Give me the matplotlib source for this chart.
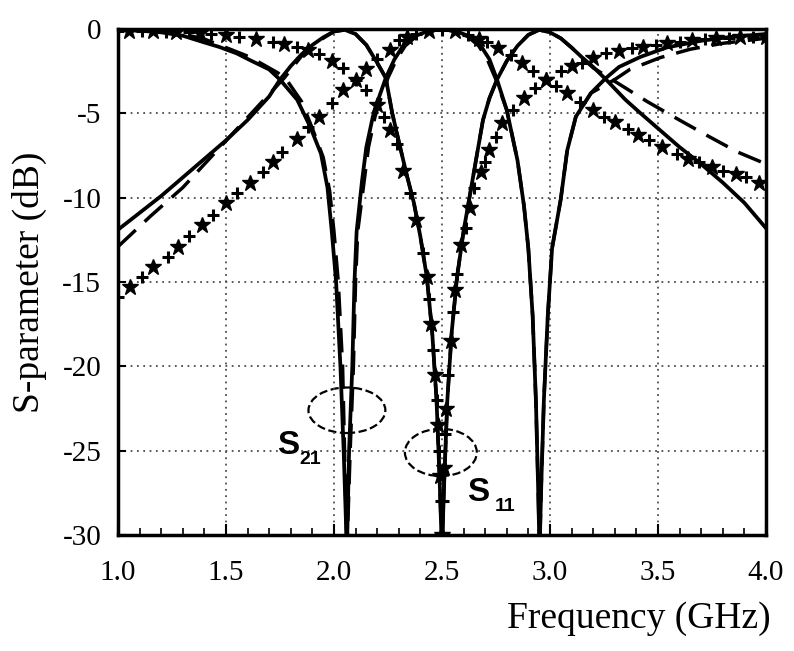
import numpy as np
import matplotlib
matplotlib.use("Agg")
import matplotlib.pyplot as plt
from matplotlib.patches import Ellipse

# solid curves (dual-band filter)
f_s21 = [1.0, 1.1, 1.2, 1.3, 1.4, 1.5, 1.6, 1.7, 1.75, 1.8, 1.85, 1.9, 1.95, 2.0, 2.05, 2.1, 2.15, 2.2,
         2.24, 2.27, 2.31, 2.34, 2.37, 2.4, 2.43, 2.455, 2.475, 2.49, 2.5, 2.51, 2.525, 2.545, 2.57, 2.6,
         2.63, 2.66, 2.69, 2.72, 2.755, 2.8, 2.85, 2.9, 2.95, 3.0, 3.05, 3.1, 3.15, 3.2, 3.26, 3.35,
         3.42, 3.51, 3.6, 3.69, 3.8, 3.9, 4.0]
s21 = [-11.9, -10.9, -9.9, -8.8, -7.7, -6.6, -5.4, -4.0, -3.0, -2.2, -1.5, -0.95, -0.5, -0.15, -0.05, -0.3,
       -0.95, -2.0, -2.9, -5.0, -7.2, -8.8, -10.3, -12.3, -14.7, -18, -22, -27, -31, -27, -22, -18, -14.7,
       -12.0, -9.8, -7.6, -5.4, -4.1, -3.0, -1.9, -1.0, -0.35, -0.05, -0.2, -0.55, -1.1, -1.7, -2.25, -3.0,
       -4.2, -5.0, -6.0, -7.0, -7.9, -9.1, -10.3, -11.8]

f_s11 = [1.0, 1.1, 1.2, 1.3, 1.35, 1.4, 1.47, 1.55, 1.61, 1.7, 1.75, 1.83, 1.89, 1.94, 1.97, 1.99, 2.01,
         2.03, 2.045, 2.06, 2.07, 2.085, 2.095, 2.105, 2.13, 2.15, 2.18, 2.21, 2.24, 2.28, 2.32, 2.37, 2.43,
         2.5, 2.57, 2.63, 2.68, 2.72, 2.755, 2.8, 2.85, 2.88, 2.9, 2.92, 2.935, 2.945, 2.952, 2.96, 2.972,
         2.99, 3.01, 3.05, 3.08, 3.12, 3.19, 3.26, 3.32, 3.42, 3.54, 3.7, 3.85, 4.0]
s11 = [-0.05, -0.1, -0.2, -0.4, -0.6, -0.8, -1.07, -1.45, -1.84, -2.4, -3.0, -4.2, -5.8, -7.4, -9.4, -12.0,
       -15, -20, -25, -31, -25, -20, -15, -12, -9, -7, -5.2, -4.0, -2.9, -1.8, -1.0, -0.45, -0.15,
       0.0, -0.15, -0.45, -1.0, -1.8, -3.0, -4.8, -7.8, -10.5, -13, -17, -22, -27, -31, -27, -22,
       -17, -13, -10.1, -7.2, -5.2, -3.8, -2.9, -2.25, -1.65, -1.1, -0.7, -0.45, -0.3]

# dashed curves
f_s21_d = [1.0, 1.15, 1.3, 1.43, 1.56, 1.69, 1.77, 1.85, 1.9, 1.95, 2.0, 2.05, 2.1, 2.15, 2.2, 2.24, 2.27,
           2.31, 2.34, 2.37, 2.4, 2.43, 2.455, 2.475, 2.49, 2.5, 2.51, 2.525, 2.545, 2.57, 2.6, 2.63, 2.66,
           2.69, 2.72, 2.755, 2.8, 2.85, 2.9, 2.95, 3.0, 3.05, 3.1, 3.15, 3.2, 3.3, 3.45, 3.6, 3.74, 3.87, 4.0]
s21_d = [-12.9, -11.1, -9.4, -7.6, -5.8, -4.0, -2.9, -1.6, -1.0, -0.55, -0.15, -0.05, -0.3, -0.95, -2.0,
         -2.9, -5.0, -7.2, -8.8, -10.3, -12.3, -14.7, -18, -22, -27, -31, -27, -22, -18, -14.7, -12.0,
         -9.8, -7.6, -5.4, -4.1, -3.0, -1.9, -1.0, -0.35, -0.05, -0.2, -0.55, -1.1, -1.7, -2.3, -3.1,
         -4.3, -5.4, -6.4, -7.3, -8.0]

f_s11_d = [1.0, 1.2, 1.3, 1.4, 1.47, 1.61, 1.74, 1.78, 1.85, 1.9, 1.95, 1.98, 2.0, 2.02, 2.04, 2.06,
           2.075, 2.09, 2.1, 2.11, 2.14, 2.16, 2.19, 2.22, 2.25, 2.29, 2.33, 2.38, 2.44, 2.5, 2.56, 2.62,
           2.67, 2.71, 2.75, 2.8, 2.85, 2.88, 2.9, 2.92, 2.935, 2.945, 2.952, 2.96, 2.972, 2.99, 3.01,
           3.05, 3.08, 3.12, 3.19, 3.3, 3.37, 3.51, 3.65, 3.8, 4.0]
s11_d = [-0.05, -0.15, -0.3, -0.6, -0.95, -1.66, -2.6, -3.0, -4.3, -5.9, -7.6, -9.6, -12, -15, -20,
         -31, -25, -20, -15, -12, -9, -7, -5.2, -4.0, -2.9, -1.8, -1.0, -0.45, -0.15, 0.0, -0.15,
         -0.45, -1.0, -1.8, -3.0, -4.8, -7.8, -10.5, -13, -17, -22, -27, -31, -27, -22, -17, -13,
         -10.1, -7.2, -5.2, -3.8, -3.0, -2.4, -1.7, -1.2, -0.85, -0.55]

# marker curves (single-band filter)
f_s21_m = [1.0, 1.056, 1.11, 1.16, 1.23, 1.28, 1.33, 1.39, 1.44, 1.5, 1.55, 1.61, 1.67, 1.72, 1.76,
           1.83, 1.88, 1.93, 1.99, 2.04, 2.1, 2.15, 2.2, 2.26, 2.3, 2.34, 2.38, 2.44, 2.5, 2.56, 2.62,
           2.67, 2.71, 2.76, 2.82, 2.87, 2.92, 2.98, 3.03, 3.08, 3.14, 3.2, 3.25, 3.3, 3.36, 3.41, 3.46,
           3.52, 3.59, 3.64, 3.69, 3.75, 3.8, 3.86, 3.91, 3.97]
s21_m = [-15.9, -15.3, -14.7, -14.1, -13.5, -12.9, -12.3, -11.6, -11.0, -10.3, -9.7, -9.1, -8.5, -7.9,
         -7.3, -6.5, -5.8, -5.2, -4.4, -3.6, -3.0, -2.4, -1.8, -1.25, -0.65, -0.45, -0.3, -0.12, -0.05,
         -0.12, -0.35, -0.6, -0.8, -1.1, -1.55, -2.0, -2.5, -3.0, -3.4, -3.8, -4.3, -4.8, -5.2, -5.5,
         -5.9, -6.3, -6.6, -7.0, -7.4, -7.7, -7.9, -8.2, -8.4, -8.6, -8.8, -9.1]

f_s11_m = [1.0, 1.05, 1.11, 1.16, 1.22, 1.27, 1.33, 1.38, 1.43, 1.5, 1.56, 1.64, 1.72, 1.77, 1.83, 1.88,
           1.93, 1.99, 2.04, 2.1, 2.15, 2.2, 2.23, 2.26, 2.29, 2.32, 2.35, 2.38, 2.41, 2.43, 2.44, 2.45,
           2.46, 2.47, 2.475, 2.48, 2.485, 2.49, 2.495, 2.5, 2.505, 2.51, 2.515, 2.52, 2.53, 2.54, 2.55,
           2.56, 2.57, 2.59, 2.61, 2.63, 2.65, 2.68, 2.7, 2.72, 2.75, 2.78, 2.83, 2.88, 2.93, 2.98, 3.05,
           3.1, 3.15, 3.2, 3.26, 3.32, 3.38, 3.43, 3.49, 3.54, 3.6, 3.66, 3.72, 3.77, 3.83, 3.88, 3.94, 4.0]
s11_m = [-0.1, -0.1, -0.12, -0.14, -0.15, -0.18, -0.2, -0.25, -0.3, -0.36, -0.45, -0.62, -0.76, -0.87,
         -1.05, -1.25, -1.5, -1.9, -2.3, -3.0, -3.6, -4.5, -5.2, -6.0, -6.8, -8.4, -9.7, -11.3, -13.3,
         -14.7, -16, -17.5, -19, -20.5, -22, -23.5, -25, -26.5, -28, -30, -28, -26, -24, -22.5, -20.5,
         -18.5, -16.8, -15.5, -14.5, -12.8, -11.8, -10.6, -9.4, -8.5, -7.9, -7.2, -6.4, -5.6, -4.8, -4.1,
         -3.5, -3.0, -2.5, -2.2, -2.0, -1.7, -1.4, -1.3, -1.15, -1.05, -0.95, -0.83, -0.75, -0.65, -0.6,
         -0.55, -0.52, -0.5, -0.48, -0.47]

x_ticks = [1.0, 1.5, 2.0, 2.5, 3.0, 3.5, 4.0]
y_ticks = [0, -5, -10, -15, -20, -25, -30]

serif = "Liberation Serif"

fig = plt.figure(figsize=(7.94, 6.51), dpi=100)
ax = fig.add_axes([0.1486, 0.178, 0.816, 0.7775])

ax.plot(f_s21, s21, color="black", lw=2.7)
ax.plot(f_s11, s11, color="black", lw=2.7)
ax.plot(f_s21_d, s21_d, color="black", lw=2.5, dashes=(7, 3.5))
ax.plot(f_s11_d, s11_d, color="black", lw=2.5, dashes=(7, 3.5))

for fx, fy in [(f_s21_m, s21_m), (f_s11_m, s11_m)]:
    fx = np.array(fx)
    fy = np.array(fy)
    ax.plot(fx[::2], fy[::2], ls="none", marker="+", ms=8, mew=2.2, color="black")
    ax.plot(fx[1::2], fy[1::2], ls="none", marker="*", ms=12, color="black")

# annotation ellipses and labels
ax.add_patch(Ellipse((2.06, -22.6), 0.356, 2.7, fill=False, ls="--", lw=1.6, color="black"))
ax.add_patch(Ellipse((2.495, -25.1), 0.333, 2.8, fill=False, ls="--", lw=1.6, color="black"))
ax.text(1.79, -24.7, "S", fontsize=24, fontweight="bold", family="Liberation Sans", ha="center", va="center")
ax.text(1.89, -25.5, "21", fontsize=14, fontweight="bold", family="Liberation Sans", ha="center", va="center")
ax.text(2.667, -27.5, "S", fontsize=24, fontweight="bold", family="Liberation Sans", ha="center", va="center")
ax.text(2.79, -28.3, "11", fontsize=14, fontweight="bold", family="Liberation Sans", ha="center", va="center")

ax.set_xlim(1.0, 4.0)
ax.set_ylim(-30, 0)
ax.set_xticks(x_ticks)
ax.set_xticklabels(["%.1f" % v for v in x_ticks], family=serif, fontsize=21)
ax.set_xticks(np.arange(1.0, 4.01, 0.1), minor=True)
ax.set_yticks(y_ticks)
ax.set_yticklabels([str(v) for v in y_ticks], family=serif, fontsize=21)
ax.tick_params(axis="x", which="major", direction="in", length=8, width=1.5, pad=18)
ax.tick_params(axis="x", which="minor", direction="in", length=5, width=1.2)
ax.tick_params(axis="y", which="major", direction="in", length=6, width=1.5, pad=12)

ax.grid(True, which="major", color="0.3", ls=(0, (1, 2.5)), lw=1.3)
for sp in ax.spines.values():
    sp.set_linewidth(2.5)

ax.set_ylabel("S-parameter (dB)", family=serif, fontsize=27)
ax.yaxis.set_label_coords(-0.11, 0.5)
ax.set_xlabel("Frequency (GHz)", family=serif, fontsize=27, loc="right")
ax.xaxis.set_label_coords(1.008, -0.13)

fig.savefig("out.png", dpi=100)
